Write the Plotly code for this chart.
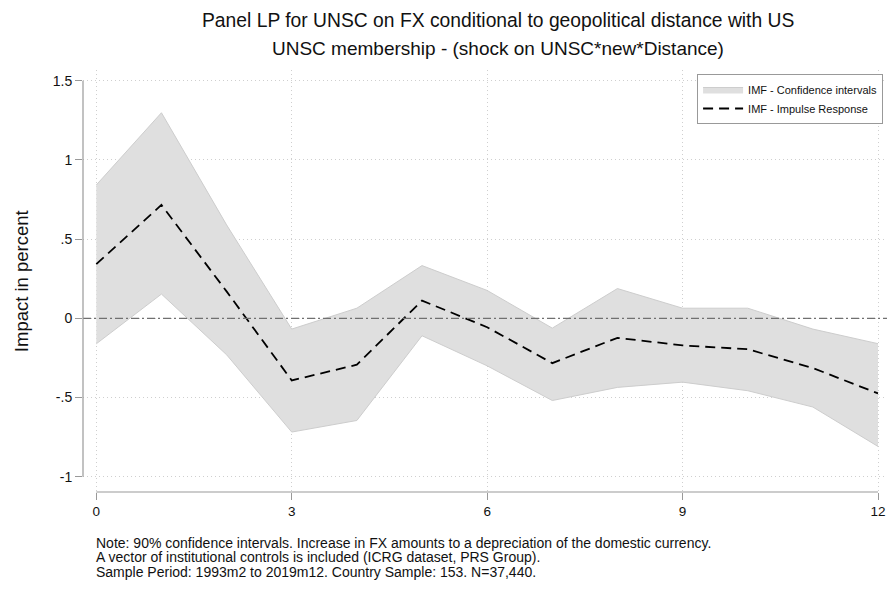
import plotly.graph_objects as go

horizon = list(range(0, 13))
irf =   [0.342, 0.716, 0.17, -0.392, -0.293, 0.112, -0.056, -0.283, -0.123, -0.171, -0.195, -0.314, -0.474]
upper = [0.842, 1.298, 0.59, -0.068, 0.064, 0.333, 0.176, -0.062, 0.188, 0.064, 0.064, -0.068, -0.160]
lower = [-0.161, 0.153, -0.23, -0.718, -0.645, -0.110, -0.300, -0.519, -0.436, -0.403, -0.457, -0.560, -0.809]

ytick_vals = [-1, -0.5, 0, 0.5, 1, 1.5]
ytick_text = ["-1", "-.5", "0", ".5", "1", "1.5"]
xtick_vals = [0, 3, 6, 9, 12]
xtick_text = ["0", "3", "6", "9", "12"]

title = "Panel LP for UNSC on FX conditional to geopolitical distance with US"
subtitle = "UNSC membership - (shock on UNSC*new*Distance)"
ylabel = "Impact in percent"
notes = [
    "Note: 90% confidence intervals. Increase in FX amounts to a depreciation of the domestic currency.",
    "A vector of institutional controls is included (ICRG dataset, PRS Group).",
    "Sample Period: 1993m2 to 2019m12. Country Sample: 153. N=37,440.",
]

FONT = "Liberation Sans, Arial, sans-serif"
OFF = 8  # page body margin in the browser
W, H = 895 - 2 * OFF, 590 - 2 * OFF
# plot area in page pixels
L_ref, R_ref, T_ref, B_ref = 82.7, 895 - OFF, 70, 492.3
L, R, T, B = L_ref - OFF, R_ref - OFF, T_ref - OFF, B_ref - OFF

fig = go.Figure()
fig.add_trace(go.Scatter(x=horizon, y=lower, mode="lines",
                         line=dict(color="#cdcdcd", width=1), showlegend=False,
                         hoverinfo="skip"))
fig.add_trace(go.Scatter(x=horizon, y=upper, mode="lines", fill="tonexty",
                         fillcolor="#dfdfdf", line=dict(color="#cdcdcd", width=1),
                         name="IMF - Confidence intervals"))
fig.add_trace(go.Scatter(x=horizon, y=irf, mode="lines",
                         line=dict(color="black", width=1.8, dash="10px,6px"),
                         name="IMF - Impulse Response"))

# zero reference line
fig.add_shape(type="line", xref="paper", yref="y", x0=0, x1=1,
              y0=0, y1=0, line=dict(color="#707070", width=1.3, dash="8px,3px,2px,3px"),
              layer="above")
# axis lines (Stata style, spanning tick range)
fig.add_shape(type="line", xref="paper", yref="y", x0=0, x1=0,
              y0=min(ytick_vals), y1=max(ytick_vals), line=dict(color="#999999", width=1.2))
fig.add_shape(type="line", xref="x", yref="paper", x0=min(xtick_vals), x1=max(xtick_vals),
              y0=0, y1=0, line=dict(color="#999999", width=1.2))

x0px, x12px = 96.0, 878.0
xu = (x12px - x0px) / 12
yu = 158.5
y0px = 318.5
xr = [(L_ref - x0px) / xu, (R_ref - x0px) / xu]
yr = [(y0px - B_ref) / yu, (y0px - T_ref) / yu]

def px(p):
    return (p - L_ref) / (R_ref - L_ref)

def py(p):
    return (B_ref - p) / (B_ref - T_ref)

fig.update_layout(
    width=W, height=H,
    margin=dict(l=L, r=W - R, t=T, b=H - B, pad=0, autoexpand=False),
    paper_bgcolor="white", plot_bgcolor="white",
    font=dict(family=FONT, color="#111111"),
    showlegend=True,
    legend=dict(x=px(697), y=py(74), xanchor="left", yanchor="top",
                bordercolor="#999999", borderwidth=1, bgcolor="white",
                font=dict(size=11, family=FONT), tracegroupgap=0,
                traceorder="normal", itemwidth=40,
                entrywidth=137, entrywidthmode="pixels"),
    xaxis=dict(range=xr, tickvals=xtick_vals, ticktext=xtick_text, showline=False,
               ticks="outside", ticklen=7, tickcolor="#999999", tickwidth=1.2,
               showgrid=True, gridcolor="#cfcfcf", griddash="1px,3px", gridwidth=1,
               zeroline=False, tickfont=dict(size=13.5, family=FONT), automargin=False,
               ticklabeloverflow="allow"),
    yaxis=dict(range=yr, tickvals=ytick_vals, ticktext=ytick_text, showline=False,
               ticks="outside", ticklen=7, tickcolor="#999999", tickwidth=1.2,
               showgrid=True, gridcolor="#cfcfcf", griddash="1px,3px", gridwidth=1,
               zeroline=False, tickfont=dict(size=14, family=FONT), automargin=False),
)

fig.add_annotation(text=title, xref="paper", yref="paper", x=px(498), y=py(20),
                   showarrow=False, font=dict(size=19.3, family=FONT), xanchor="center", yanchor="middle")
fig.add_annotation(text=subtitle, xref="paper", yref="paper", x=px(498), y=py(48),
                   showarrow=False, font=dict(size=19, family=FONT), xanchor="center", yanchor="middle")
fig.add_annotation(text=ylabel, xref="paper", yref="paper", x=px(22), y=py(281),
                   showarrow=False, textangle=-90, font=dict(size=18.5, family=FONT),
                   xanchor="center", yanchor="middle")
for i, n in enumerate(notes):
    fig.add_annotation(text=n, xref="paper", yref="paper", x=px(96), y=py(543 + i * 14.5),
                       showarrow=False, font=dict(size=14, family=FONT),
                       xanchor="left", yanchor="middle", xshift=-2)

fig.write_html("out.html")
